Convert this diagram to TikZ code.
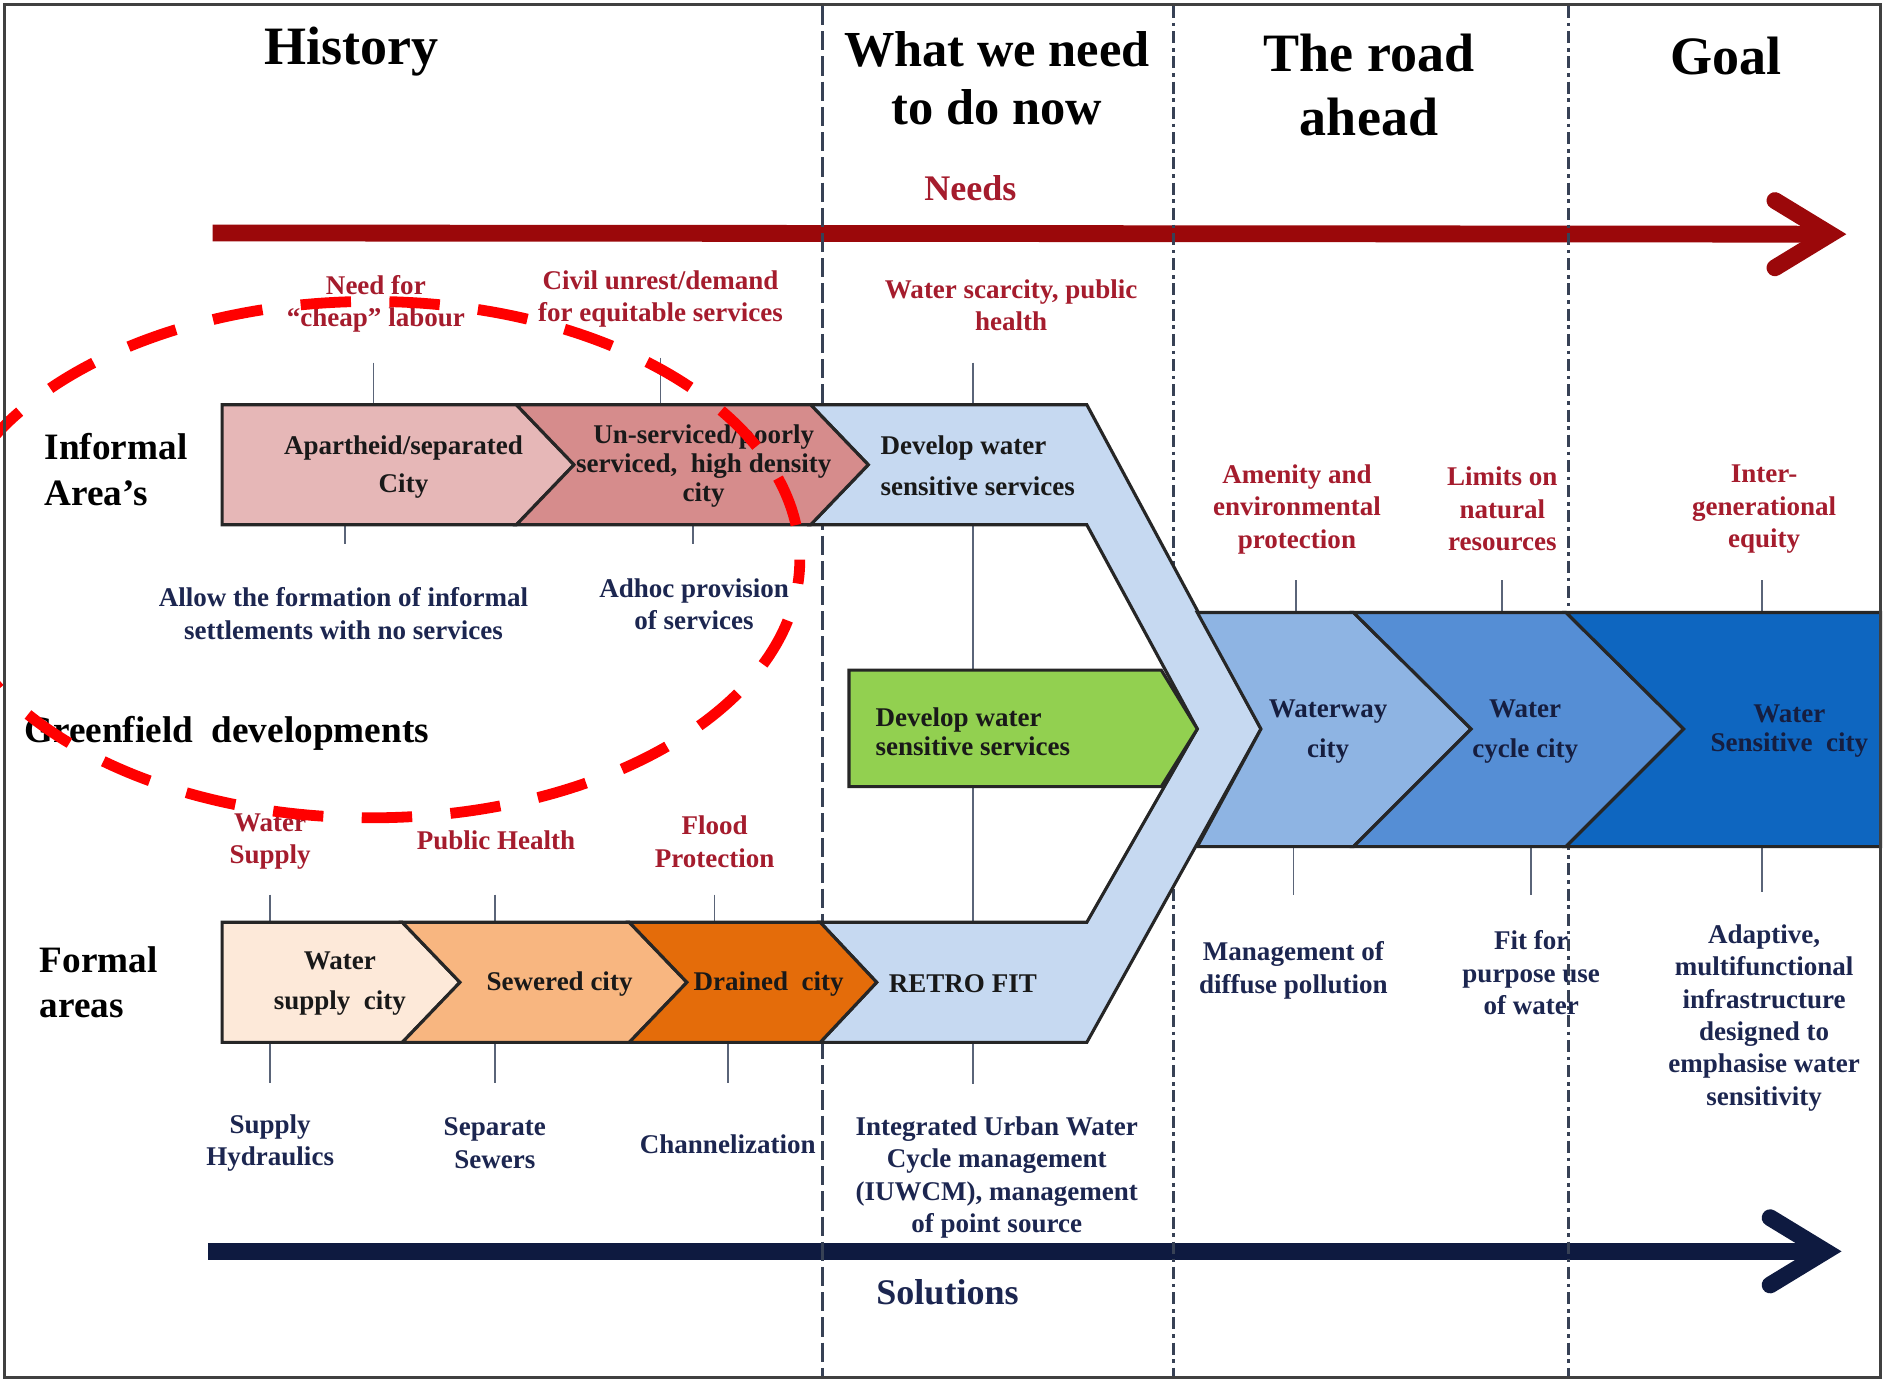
\documentclass[tikz,border=0pt]{standalone}
\usepackage{fontspec}
\setmainfont{Liberation Serif}
\definecolor{needred}{RGB}{165,28,45}
\definecolor{solnavy}{RGB}{28,38,80}
\definecolor{arrred}{RGB}{155,8,10}
\definecolor{arrnavy}{RGB}{14,26,64}
\definecolor{pinkA}{RGB}{230,183,183}
\definecolor{pinkB}{RGB}{214,140,140}
\definecolor{lblue}{RGB}{198,217,241}
\definecolor{wway}{RGB}{142,180,227}
\definecolor{wcyc}{RGB}{85,142,213}
\definecolor{wsen}{RGB}{14,102,192}
\definecolor{grn}{RGB}{146,208,80}
\definecolor{orA}{RGB}{253,233,217}
\definecolor{orB}{RGB}{248,182,128}
\definecolor{orC}{RGB}{228,108,10}
\definecolor{gridc}{RGB}{55,65,85}
\definecolor{tickc}{RGB}{90,100,120}
\begin{document}
\begin{tikzpicture}[x=1pt,y=-1pt,
  box/.style={draw=black!85, line width=2.6pt, line join=miter},
  tickln/.style={draw=tickc, line width=1.4pt},
  secA/.style={draw=gridc, line width=2.6pt, dash pattern=on 16pt off 5pt},
  secB/.style={draw=gridc, line width=2.6pt, dash pattern=on 10pt off 4pt on 3pt off 4pt},
  hdr/.style={inner sep=0pt, align=center, font=\fontsize{45}{53}\selectfont\bfseries},
  sm/.style={inner sep=0pt, align=center, font=\fontsize{22.5}{27}\selectfont\bfseries},
  rd/.style={sm, text=needred},
  nv/.style={sm, text=solnavy},
  bx/.style={sm, text=black!90},
  bl/.style={sm, text=solnavy!80!black},
  rowl/.style={inner sep=0pt, align=left, anchor=west, font=\fontsize{31}{38}\selectfont\bfseries},
  tl/.style={inner sep=0pt, font=\fontsize{30}{36}\selectfont\bfseries}
]
\useasboundingbox (0,0) rectangle (1568,1149);
\fill[white] (0,0) rectangle (1568,1149);

% ---- labels outside the boxes
\node[rd] (lab1) at (313,253) {Need for\\“cheap” labour};
\node[rd] (civ) at (550,249) {Civil unrest/demand\\for equitable services};
\node[rd] (wsc) at (842,254) {Water scarcity, public\\health};
\node[nv] (allow) at (286,511) {Allow the formation of informal\\settlements with no services};
\node[nv] (adhoc) at (578,503) {Adhoc provision\\of services};
\node[rd] (amen) at (1080,424) {Amenity and\\environmental\\protection};
\node[rd] (lim) at (1251,424) {Limits on\\natural\\resources};
\node[rd] (inter) at (1469,424) {Inter-\\generational\\equity};
\node[rd] (wsup) at (225,701) {Water\\Supply};
\node[rd] (ph) at (413,700) {Public Health};
\node[rd] (flood) at (595,701) {Flood\\Protection};
\node[nv] (mgmt) at (1077,808) {Management of\\diffuse pollution};
\node[nv] (fit) at (1275,810) {Fit for\\purpose use\\of water};
\node[nv] (adapt) at (1469,847.5) {Adaptive,\\multifunctional\\infrastructure\\designed to\\emphasise water\\sensitivity};
\node[nv] (shyd) at (225,952) {Supply\\Hydraulics};
\node[nv] (ssew) at (412,952) {Separate\\Sewers};
\node[nv] (chan) at (606,953) {Channelization};
\node[nv] (iuwcm) at (830,980.5) {Integrated Urban Water\\Cycle management\\(IUWCM), management\\of point source};

% ---- timeline arrows
\coordinate (rs) at (177,194); \coordinate (re) at (1524,195);
\coordinate (ns) at (173,1042); \coordinate (ne) at (1520,1042);
\draw[arrred, line width=14pt] (rs) -- (re);
\draw[arrred, line width=14pt, line cap=round, line join=miter] ([shift={(-46,-28)}]re) -- (re) -- ([shift={(-46,28)}]re);
\draw[arrnavy, line width=14pt] (ns) -- (ne);
\draw[arrnavy, line width=14pt, line cap=round, line join=miter] ([shift={(-46,-28)}]ne) -- (ne) -- ([shift={(-46,28)}]ne);
\node[tl, text=needred] (needs) at (808,157) {Needs};
\node[tl, text=solnavy] (sol) at (789,1076) {Solutions};

% ---- section lines
\draw[secA] (685,5) -- (685,1147);
\draw[secB] (977,5) -- (977,1147);
\draw[secB] (1306,5) -- (1306,1147);

% ---- ticks
\foreach \x/\ya/\yb in {311/302/337, 550/298/337, 810/302/903, 287/437/453, 577/437/453,
  1079/483/510, 1251/483/510, 1467/483/510, 1077/705/745, 1275/705/745, 1467/705/743,
  225/745/768, 412/745/768, 595/745/768, 225/868/902, 412/868/902, 606/868/902}
  \draw[tickln] (\x,\ya) -- (\x,\yb);

% ---- boxes
\draw[box, fill=lblue] (675,337) -- (905,337) -- (1050,607) -- (905,868) -- (683,868) -- (730,818) -- (683,768) -- (905,768) -- (997,607) -- (905,437) -- (675,437) -- (723,387) -- cycle;
\draw[box, fill=pinkA] (185,337) -- (430,337) -- (478,387) -- (430,437) -- (185,437) -- cycle;
\draw[box, fill=pinkB] (430,337) -- (675,337) -- (723,387) -- (675,437) -- (430,437) -- (478,387) -- cycle;
\draw[box, fill=grn] (707,558) -- (967,558) -- (997,607) -- (967,655) -- (707,655) -- cycle;
\draw[box, fill=wway] (997,510) -- (1127,510) -- (1225,607) -- (1127,705) -- (997,705) -- (1050,607) -- cycle;
\draw[box, fill=wcyc] (1127,510) -- (1304,510) -- (1402,607) -- (1304,705) -- (1127,705) -- (1225,607) -- cycle;
\draw[box, fill=wsen] (1304,510) -- (1566,510) -- (1566,705) -- (1304,705) -- (1402,607) -- cycle;
\draw[box, fill=orA] (185,768) -- (335,768) -- (383,818) -- (335,868) -- (185,868) -- cycle;
\draw[box, fill=orB] (335,768) -- (524,768) -- (572,818) -- (524,868) -- (335,868) -- (383,818) -- cycle;
\draw[box, fill=orC] (524,768) -- (683,768) -- (730,818) -- (683,868) -- (524,868) -- (572,818) -- cycle;

% ---- box texts
\node[bx, font=\fontsize{22.5}{32}\selectfont\bfseries] (apart) at (336,389) {Apartheid/separated\\City};
\node[bx, font=\fontsize{22.5}{24}\selectfont\bfseries] (unserv) at (586,388) {Un-serviced/poorly\\serviced,\ \ high density\\city};
\node[bx, align=left, anchor=west, font=\fontsize{22.5}{34}\selectfont\bfseries] (devA) at (733,388) {Develop water\\sensitive services};
\node[bx, align=left, anchor=west, font=\fontsize{22.5}{24}\selectfont\bfseries] (devB) at (729,609) {Develop water\\sensitive services};
\node[bl, font=\fontsize{22.5}{33}\selectfont\bfseries] (wwc) at (1106,609) {Waterway\\city};
\node[bl, font=\fontsize{22.5}{33}\selectfont\bfseries] (wcc) at (1270,609) {Water\\cycle city};
\node[bl, font=\fontsize{22.5}{24}\selectfont\bfseries] (wsc2) at (1490,609) {Water\\Sensitive\ \ city};
\node[bx, font=\fontsize{22.5}{33}\selectfont\bfseries] (wsupc) at (283,819) {Water\\supply\ \ city};
\node[bx] (sew) at (466,819) {Sewered city};
\node[bx] (drain) at (640,819) {Drained\ \ city};
\node[bx, anchor=west] (retro) at (740,819) {RETRO FIT};

% ---- headers and row labels
\node[hdr] (hist) at (293,43) {History};
\node[hdr, font=\fontsize{42}{48}\selectfont\bfseries] (what) at (830,65) {What we need\\to do now};
\node[hdr] (road) at (1140,71) {The road\\ahead};
\node[hdr] (goal) at (1437,47) {Goal};
\node[rowl] (inf) at (37,391) {Informal\\Area’s};
\node[rowl] (green) at (20,611) {Greenfield\ \ developments};
\node[rowl] (form) at (33,818) {Formal\\areas};

% ---- red dashed ellipse
\begin{scope}
\clip (0,0) rectangle (1568,1149);
\draw[red, line width=9pt, dash pattern=on 42pt off 32pt, dash phase=45pt] (309,466) ellipse [x radius=357pt, y radius=215pt];
\end{scope}

% ---- frame
\draw[line width=2.5pt, black!75] (4,4) rectangle (1566,1147);
\end{tikzpicture}
\end{document}
